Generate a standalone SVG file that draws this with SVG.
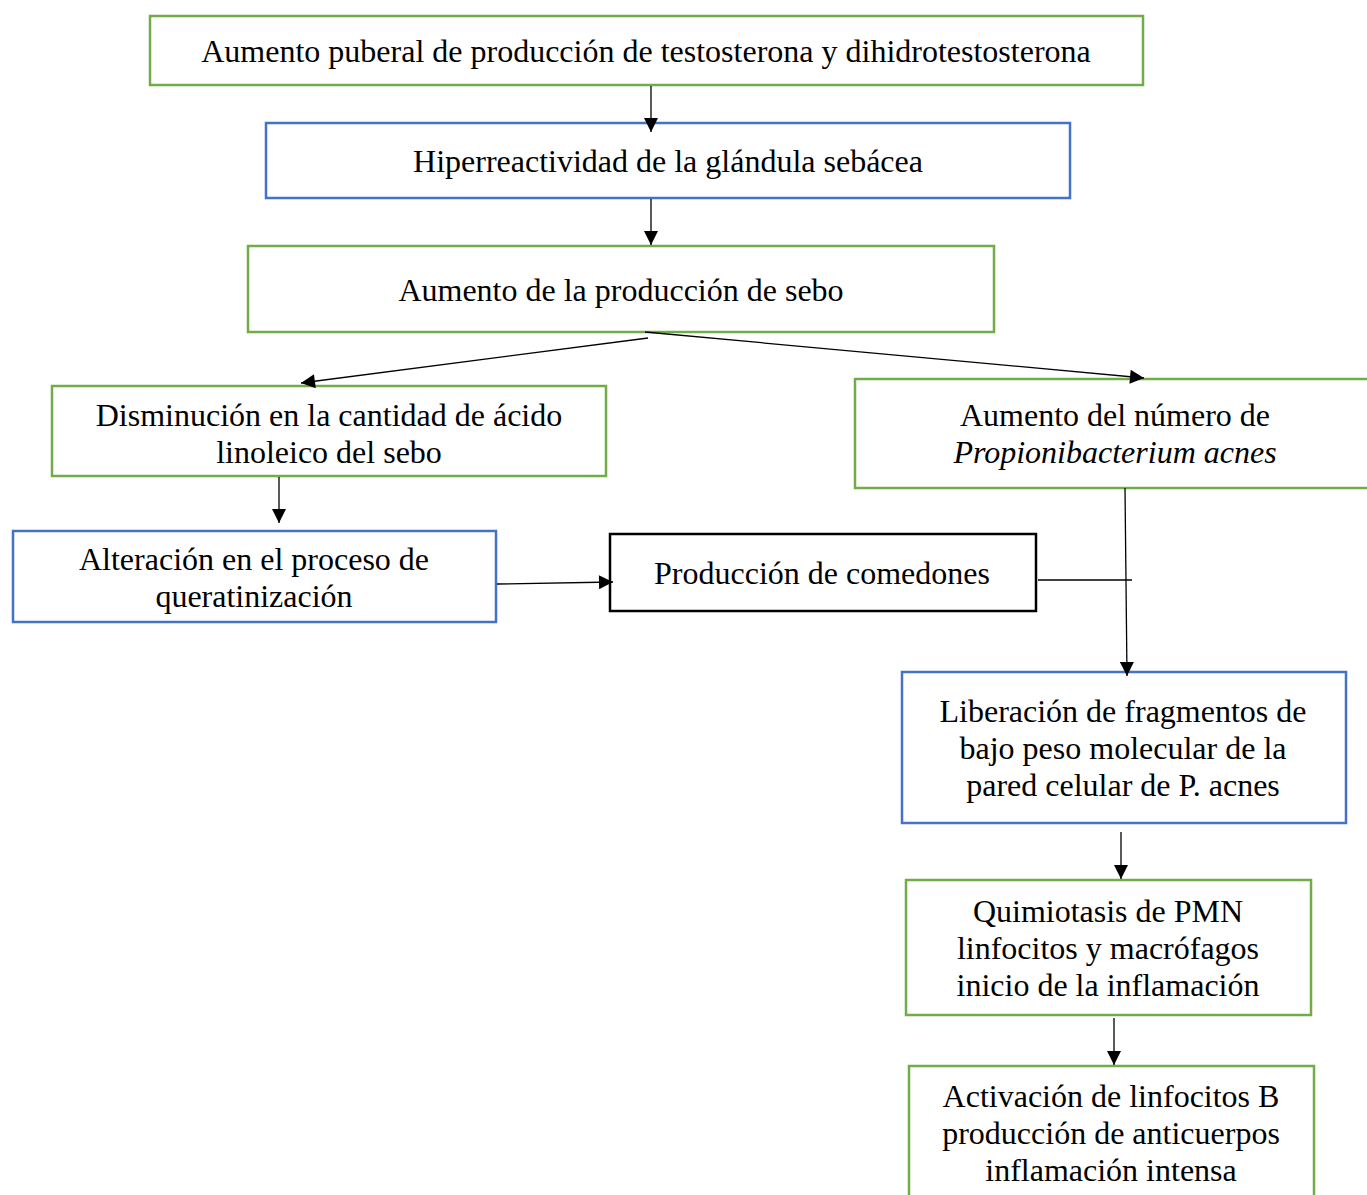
<svg xmlns="http://www.w3.org/2000/svg" width="1367" height="1195" viewBox="0 0 1367 1195">
<defs>
<marker id="ah" viewBox="0 0 10 10" refX="10" refY="5" markerWidth="15" markerHeight="14" markerUnits="userSpaceOnUse" orient="auto">
<path d="M0,0 L10,5 L0,10 Z" fill="#000"/>
</marker>
</defs>
<style>
.g{fill:#fff;stroke:#70AD47;stroke-width:2.5}
.b{fill:#fff;stroke:#4472C4;stroke-width:2.5}
.k{fill:#fff;stroke:#000;stroke-width:2.5}
text{font-family:"Liberation Serif","Times New Roman",serif;font-size:32px;fill:#000;text-anchor:middle}
.c line{stroke:#000;stroke-width:1.3}
.c .a{marker-end:url(#ah)}
</style>
<rect width="1367" height="1195" fill="#fff"/>
<g id="n1"><rect class="g" x="150" y="16" width="993" height="69"/><text x="646" y="62">Aumento puberal de producción de testosterona y dihidrotestosterona</text></g>
<g id="n2"><rect class="b" x="266" y="123" width="804" height="75"/><text x="668" y="172">Hiperreactividad de la glándula sebácea</text></g>
<g id="n3"><rect class="g" x="248" y="246" width="746" height="86"/><text x="621" y="301">Aumento de la producción de sebo</text></g>
<g id="n4"><rect class="g" x="52" y="386" width="554" height="90"/><text x="329" y="426">Disminución en la cantidad de ácido</text><text x="329" y="463">linoleico del sebo</text></g>
<g id="n5"><rect class="g" x="855" y="379" width="520" height="109"/><text x="1115" y="426">Aumento del número de</text><text x="1115" y="463" font-style="italic">Propionibacterium acnes</text></g>
<g id="n6"><rect class="b" x="13" y="531" width="483" height="91"/><text x="254" y="570">Alteración en el proceso de</text><text x="254" y="607">queratinización</text></g>
<g id="n7"><rect class="k" x="610" y="534" width="426" height="77"/><text x="822" y="584">Producción de comedones</text></g>
<g id="n8"><rect class="b" x="902" y="672" width="444" height="151"/><text x="1123" y="722">Liberación de fragmentos de</text><text x="1123" y="759">bajo peso molecular de la</text><text x="1123" y="796">pared celular de P. acnes</text></g>
<g id="n9"><rect class="g" x="906" y="880" width="405" height="135"/><text x="1108" y="922">Quimiotasis de PMN</text><text x="1108" y="959">linfocitos y macrófagos</text><text x="1108" y="996">inicio de la inflamación</text></g>
<g id="n10"><rect class="g" x="909" y="1066" width="405" height="140"/><text x="1111" y="1107">Activación de linfocitos B</text><text x="1111" y="1144">producción de anticuerpos</text><text x="1111" y="1181">inflamación intensa</text></g>
<g id="connectors" class="c">
<line class="a" x1="651" y1="86" x2="651" y2="132"/>
<line class="a" x1="651" y1="199" x2="651" y2="245"/>
<line class="a" x1="648" y1="338" x2="301" y2="383"/>
<line class="a" x1="645" y1="332" x2="1144" y2="378"/>
<line class="a" x1="279" y1="477" x2="279" y2="523"/>
<line class="a" x1="497" y1="584" x2="613" y2="582"/>
<line class="a" x1="1125" y1="488" x2="1127" y2="676"/>
<line x1="1038" y1="580" x2="1132" y2="580"/>
<line class="a" x1="1121" y1="832" x2="1121" y2="879"/>
<line class="a" x1="1114" y1="1018" x2="1114" y2="1065"/>
</g>
</svg>
